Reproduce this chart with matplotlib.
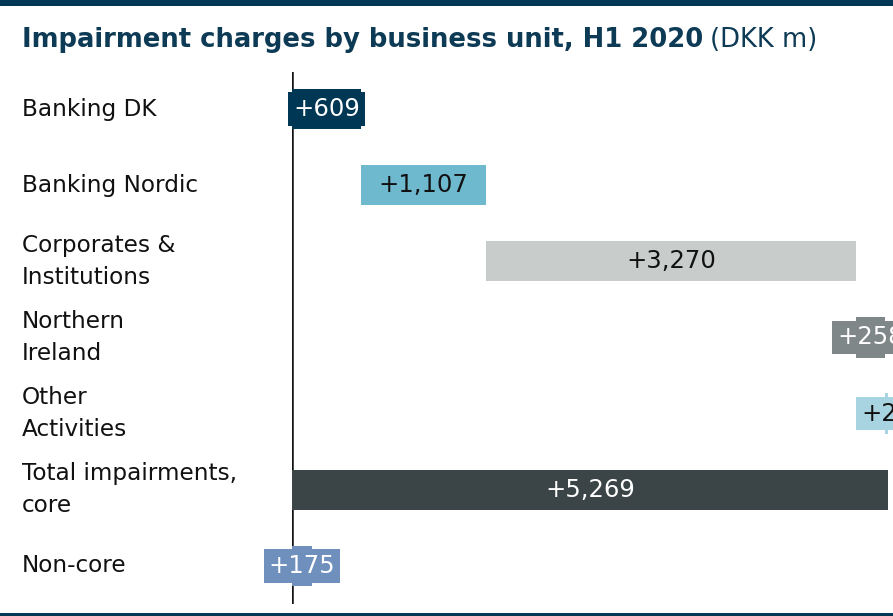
import matplotlib
matplotlib.use('Agg')
import matplotlib.pyplot as plt
import matplotlib.transforms as mtrans
from matplotlib.patches import Rectangle

plt.rcParams['font.family'] = ['DejaVu Sans']

units = ['Banking DK', 'Banking Nordic', 'Corporates &\nInstitutions',
         'Northern\nIreland', 'Other\nActivities', 'Total impairments,\ncore',
         'Non-core']
values = [609, 1107, 3270, 258, 25, 5269, 175]
labels = ['+609', '+1,107', '+3,270', '+258', '+25', '+5,269', '+175']
is_total = [False, False, False, False, False, True, False]
colors = ['#003755', '#6fb9cf', '#c8cdcb', '#7f8788', '#a8d3e0', '#3b4446', '#6f8fbd']
text_colors = ['white', '#111111', '#111111', 'white', '#111111', 'white', 'white']

# waterfall starts
starts = []
run = 0
for i, v in enumerate(values):
    if is_total[i] or units[i] == 'Non-core':
        starts.append(0)
    else:
        starts.append(run)
        run += v

W, H = 893, 616
fig = plt.figure(figsize=(W / 100, H / 100), dpi=100)
ax = fig.add_axes([292 / W, (616 - 604) / H, (W - 292) / W, (604 - 72) / H])
ax.set_xlim(0, (W - 292) / 0.1131)
ax.set_ylim(6.5, -0.486)
ax.axis('off')

ax.axvline(0, color='#111111', lw=1.8, zorder=1)

for i in range(len(values)):
    ax.barh(i, values[i], left=starts[i], height=0.53, color=colors[i], zorder=2)
    cx = starts[i] + values[i] / 2
    if values[i] < 1000:
        ax.text(cx, i, labels[i], ha='center', va='center', fontsize=17.5,
                color=text_colors[i], zorder=3, clip_on=False,
                bbox=dict(boxstyle='square,pad=0.2', fc=colors[i], ec='none'))
    else:
        ax.text(cx, i, labels[i], ha='center', va='center', fontsize=17.5,
                color=text_colors[i], zorder=3)

# category labels
tr = mtrans.blended_transform_factory(fig.transFigure, ax.transData)
for i, name in enumerate(units):
    ax.text(22 / W, i, name, transform=tr, ha='left', va='center',
            fontsize=16.7, color='#111111', linespacing=1.5)

# title
t = fig.text(22 / W, 1 - 40 / H, 'Impairment charges by business unit, H1 2020',
             fontsize=18.6, fontweight='bold', color='#0d3a55', va='center')
fig.canvas.draw()
bb = t.get_window_extent()
fig.text(bb.x1 / W + 7 / W, 1 - 40 / H, '(DKK m)', fontsize=18.6,
         color='#0d3a55', va='center')

# top and bottom rules
fig.add_artist(Rectangle((0, 1 - 5.5 / H), 1, 5.5 / H, transform=fig.transFigure,
                         color='#003755', lw=0))
fig.add_artist(Rectangle((0, 0), 1, 3.5 / H, transform=fig.transFigure,
                         color='#003755', lw=0))

fig.savefig('out.png', dpi=100)
